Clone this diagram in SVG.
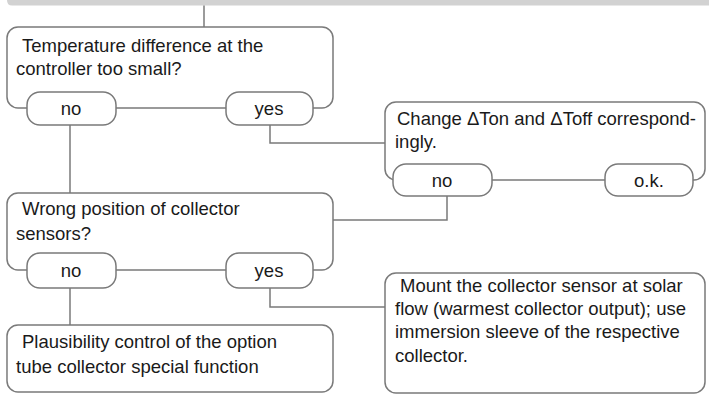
<svg xmlns="http://www.w3.org/2000/svg" width="709" height="394" viewBox="0 0 709 394">
<style>
.box{fill:#fff;stroke:#7a7a7a;stroke-width:1.5}
.pill{fill:#fff;stroke:#7a7a7a;stroke-width:1.5}
.ln{fill:none;stroke:#7a7a7a;stroke-width:1.5}
text{font-family:"Liberation Sans",Arial,sans-serif;font-size:18.5px;fill:#1a1a1a}
.c{text-anchor:middle}
</style>
<rect width="709" height="394" fill="#fff"/>
<path d="M7 0 H709 V5.5 H12 Q7 5.5 7 0 Z" fill="#d2d2d2"/>
<g id="connectors">
<path class="ln" d="M204 5.5 V27"/>
<path class="ln" d="M70 125 V193"/>
<path class="ln" d="M270 125 V143 H385"/>
<path class="ln" d="M447 196 V220 H333"/>
<path class="ln" d="M70 288 V325"/>
<path class="ln" d="M270 288 V307 H385"/>
</g>
<g id="q1">
<rect class="box" x="7" y="27" width="326" height="81" rx="11"/>
<text x="22" y="52">Temperature difference at the</text>
<text x="16" y="75">controller too small?</text>
</g>
<g id="q1-no">
<rect class="pill" x="27" y="92" width="89" height="33" rx="13"/>
<text class="c" x="71" y="115">no</text>
</g>
<g id="q1-yes">
<rect class="pill" x="226" y="92" width="87" height="33" rx="13"/>
<text class="c" x="269" y="115">yes</text>
</g>
<g id="a1">
<rect class="box" x="385" y="102" width="320" height="78" rx="11"/>
<text x="397" y="125">Change ΔTon and ΔToff correspond-</text>
<text x="395" y="148">ingly.</text>
</g>
<g id="a1-no">
<rect class="pill" x="393" y="164" width="99" height="32" rx="13"/>
<text class="c" x="442" y="187">no</text>
</g>
<g id="a1-ok">
<rect class="pill" x="605" y="164" width="88" height="32" rx="13"/>
<text class="c" x="649" y="187">o.k.</text>
</g>
<g id="q2">
<rect class="box" x="7" y="193" width="326" height="77" rx="11"/>
<text x="22" y="215">Wrong position of collector</text>
<text x="16" y="240">sensors?</text>
</g>
<g id="q2-no">
<rect class="pill" x="27" y="253" width="89" height="35" rx="13"/>
<text class="c" x="71" y="277">no</text>
</g>
<g id="q2-yes">
<rect class="pill" x="226" y="253" width="87" height="35" rx="13"/>
<text class="c" x="269" y="277">yes</text>
</g>
<g id="r1">
<rect class="box" x="7" y="325" width="326" height="67" rx="11"/>
<text x="22" y="348">Plausibility control of the option</text>
<text x="16" y="373">tube collector special function</text>
</g>
<g id="r2">
<rect class="box" x="385" y="273" width="320" height="120" rx="11"/>
<text x="400" y="292">Mount the collector sensor at solar</text>
<text x="395" y="315">flow (warmest collector output); use</text>
<text x="395" y="338">immersion sleeve of the respective</text>
<text x="395" y="362">collector.</text>
</g>
</svg>
